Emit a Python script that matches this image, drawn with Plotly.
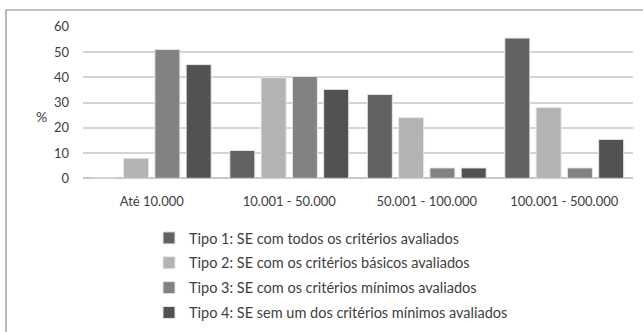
import plotly.graph_objects as go

categories = ["Até 10.000", "10.001 - 50.000", "50.001 - 100.000", "100.001 - 500.000"]
series_names = [
    "Tipo 1: SE com todos os critérios avaliados",
    "Tipo 2: SE com os critérios básicos avaliados",
    "Tipo 3: SE com os critérios mínimos avaliados",
    "Tipo 4: SE sem um dos critérios mínimos avaliados",
]
tipo1 = [0, 11, 33.2, 55.5]
tipo2 = [7.9, 39.8, 24, 28]
tipo3 = [51, 40.3, 4.1, 4.1]
tipo4 = [45, 35.2, 4.1, 15.4]
y_ticks = [0, 10, 20, 30, 40, 50, 60]

colors = ["#626262", "#b3b3b3", "#828282", "#525252"]
series = [tipo1, tipo2, tipo3, tipo4]

W, H = 643, 332
ML, MR, MT, MB = 0, 0, 0, 0
PW, PH = W - ML - MR, H - MT - MB


def px_x(p):
    return (p - ML) / PW


def px_y(p):
    return (H - MB - p) / PH


fig = go.Figure()
for i, (name, vals) in enumerate(zip(series_names, series)):
    fig.add_trace(go.Bar(
        x=categories, y=vals, name=name,
        marker=dict(color=colors[i], line=dict(color="#e6e6e6", width=1)),
        legendgroup=f"g{i}",
    ))

font_family = "Lato, Liberation Sans, Arial, sans-serif"
fig.update_layout(
    width=W, height=H,
    margin=dict(l=ML, r=MR, t=MT, b=MB, pad=0, autoexpand=False),
    paper_bgcolor="white", plot_bgcolor="white",
    barmode="group", bargap=0.09, bargroupgap=0.2,
    font=dict(family=font_family, size=13, color="#404040"),
    showlegend=True,
    legend=dict(
        x=px_x(149), y=px_y(222), xanchor="left", yanchor="top",
        font=dict(size=14.5, color="#404040"),
        tracegroupgap=3,
        bgcolor="rgba(0,0,0,0)",
    ),
    xaxis=dict(
        domain=[px_x(83), px_x(633)], automargin=False,
        showgrid=False, showline=False, zeroline=False,
        ticks="", ticklabelstandoff=14,
        tickfont=dict(size=13, color="#404040"),
    ),
    yaxis=dict(
        domain=[px_y(178.3), px_y(26.7)], automargin=False,
        range=[0, 60], tickvals=y_ticks,
        showgrid=True, gridcolor="#d4d4d4", gridwidth=1.5,
        zeroline=True, zerolinecolor="#c8c8c8", zerolinewidth=1.5,
        showline=False, ticks="", ticklabelstandoff=13,
        tickfont=dict(size=13, color="#404040"),
    ),
    shapes=[dict(
        type="rect", xref="paper", yref="paper",
        x0=px_x(6), x1=1.2, y0=-0.5, y1=px_y(10),
        line=dict(color="#8a8a8a", width=1.2), fillcolor="rgba(0,0,0,0)", layer="below",
    )],
    annotations=[dict(
        text="%", xref="paper", yref="paper",
        x=px_x(34), y=px_y(106),
        showarrow=False, font=dict(size=14, color="#404040"),
    )],
)

fig.write_html("out.html")
